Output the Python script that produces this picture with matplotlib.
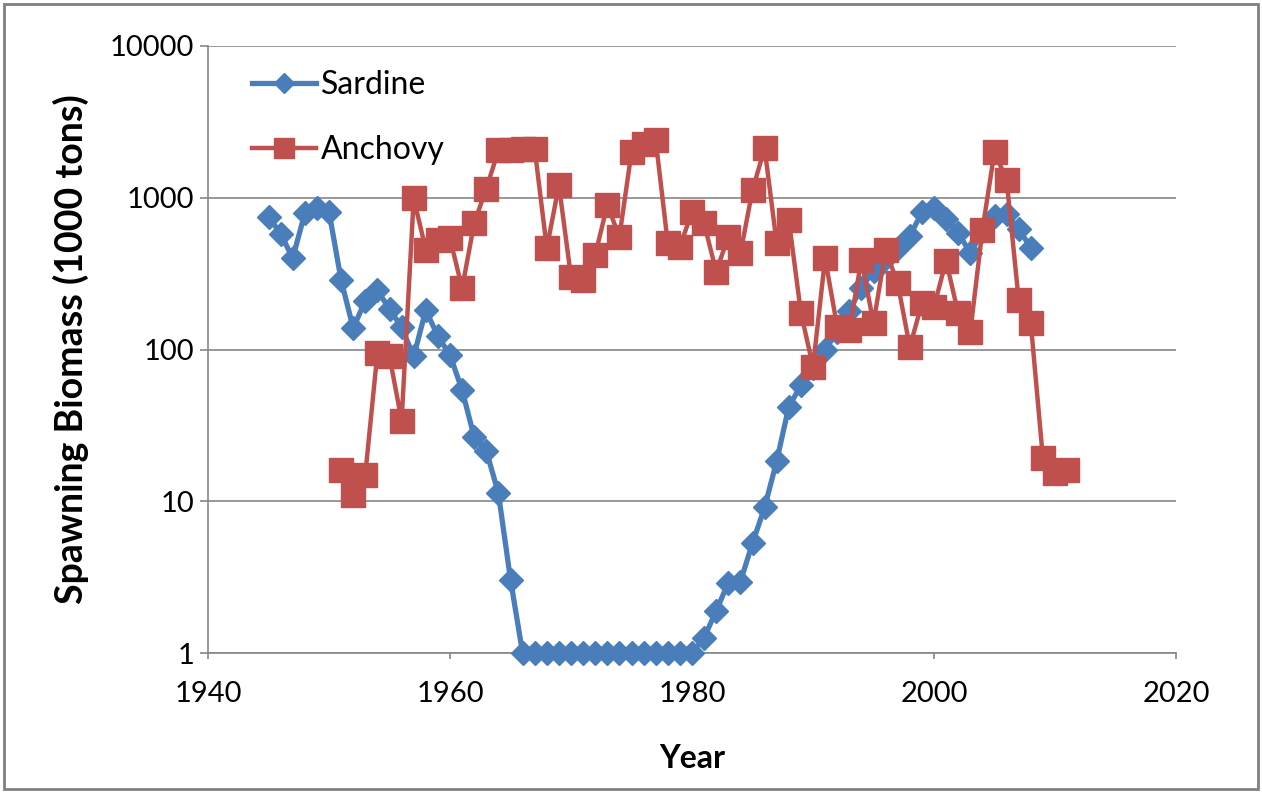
import matplotlib
matplotlib.use("Agg")
import matplotlib.pyplot as plt
from matplotlib.patches import Rectangle
from matplotlib.ticker import NullLocator

plt.rcParams['font.family'] = ['Lato', 'DejaVu Sans']

# Sardine spawning biomass (1000 tons)
sardine_years = list(range(1945, 2009))
sardine = [750, 580, 400, 790, 850, 810, 287, 138, 210, 245,
           185, 140, 90, 182, 122, 92, 54, 26.5, 21.5, 11.3,
           3.05, 1, 1, 1, 1, 1, 1, 1, 1, 1,
           1, 1, 1, 1, 1, 1, 1.26, 1.9, 2.9, 2.95,
           5.3, 9.1, 18.4, 42, 58, 75, 100, 130, 180, 255,
           330, 400, 470, 560, 800, 850, 720, 590, 430, 600,
           760, 780, 620, 470]

# Anchovy spawning biomass (1000 tons)
anchovy_years = list(range(1951, 2012))
anchovy = [16, 11, 15, 95, 90, 34, 990, 455, 530, 540,
           253, 680, 1150, 2050, 2050, 2100, 2100, 465, 1210, 300,
           287, 420, 895, 554, 2000, 2250, 2400, 500, 475, 810,
           677, 326, 554, 430, 1125, 2120, 500, 713, 175, 77,
           399, 141, 134, 389, 149, 453, 273, 104, 201, 191,
           385, 173, 131, 613, 2010, 1309, 212, 149, 19.2, 15.3,
           16]

x_ticks = [1940, 1960, 1980, 2000, 2020]
y_ticks = [1, 10, 100, 1000, 10000]
y_labels = ['1', '10', '100', '1000', '10000']

blue = '#4A7EBB'
red = '#C0504D'
grey = '#868686'
ftsize = 21

fig = plt.figure(figsize=(12.62, 7.93), dpi=100)
ax = fig.add_axes([208/1262, 1 - 653/793, (1176 - 208)/1262, (653 - 46)/793])

ax.plot(sardine_years, sardine, color=blue, linewidth=3.8, marker='D',
        markersize=12.5, markerfacecolor=blue, markeredgecolor=blue, label='Sardine',
        zorder=3, clip_on=False)
ax.plot(anchovy_years, anchovy, color=red, linewidth=3.2, marker='s',
        markersize=17.5, markerfacecolor=red, markeredgecolor=red, label='Anchovy',
        zorder=4, clip_on=False)

ax.set_yscale('log')
ax.set_ylim(1, 10000)
ax.set_xlim(1940, 2020)
ax.set_yticks(y_ticks)
ax.set_yticklabels(y_labels)
ax.yaxis.set_minor_locator(NullLocator())
ax.set_xticks(x_ticks)
ax.set_xticklabels([str(t) for t in x_ticks])

ax.grid(axis='y', color=grey, linewidth=1.2)
ax.set_axisbelow(True)
for s in ['top', 'right']:
    ax.spines[s].set_visible(False)
for s in ['left', 'bottom']:
    ax.spines[s].set_color(grey)
    ax.spines[s].set_linewidth(1.2)

ax.tick_params(axis='both', colors=grey, labelcolor='black', labelsize=ftsize, width=1.2)
ax.tick_params(axis='y', length=6, pad=4)
ax.tick_params(axis='x', length=4, pad=16)

ax.set_xlabel('Year', fontsize=23, fontweight='bold', labelpad=27)
ax.set_ylabel('Spawning Biomass (1000 tons)', fontsize=27, fontweight='bold', labelpad=15)

ax.legend(loc='upper left', bbox_to_anchor=(0.032, 0.982), frameon=False, fontsize=23,
          handlelength=2.0, handletextpad=0.18, labelspacing=1.12, borderaxespad=0,
          markerscale=0.8)

# outer frame of the picture
fig.patches.append(Rectangle((0.003, 0.005), 0.994, 0.99, transform=fig.transFigure,
                             fill=False, edgecolor='#808080', linewidth=2))

plt.savefig('out.png', dpi=100)
